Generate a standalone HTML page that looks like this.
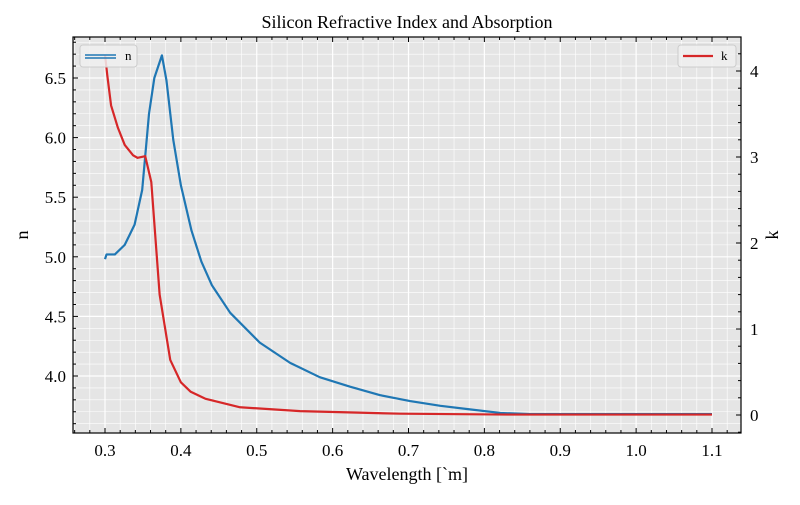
<!DOCTYPE html>
<html><head><meta charset="utf-8"><style>
body{margin:0;background:#fff;}
svg text{font-family:"Liberation Serif",serif;fill:#000;}
</style></head><body>
<svg id="c" width="800" height="500" xmlns="http://www.w3.org/2000/svg"></svg>
<script>
const nWl=[0.30,0.302,0.313,0.326,0.339,0.349,0.358,0.365,0.375,0.381,0.390,0.400,0.414,0.427,0.441,0.465,0.504,0.544,0.583,0.623,0.662,0.702,0.742,0.781,0.821,0.86,0.95,1.1];
const nVals=[4.98,5.02,5.02,5.10,5.27,5.56,6.20,6.50,6.69,6.48,5.98,5.60,5.22,4.96,4.76,4.53,4.28,4.11,3.99,3.91,3.84,3.79,3.75,3.72,3.69,3.68,3.68,3.68];
const kWl=[0.30,0.303,0.308,0.317,0.326,0.337,0.343,0.353,0.361,0.372,0.386,0.400,0.413,0.432,0.478,0.557,0.689,0.83,1.1];
const kVals=[4.19,3.95,3.60,3.34,3.14,3.02,2.99,3.01,2.71,1.40,0.64,0.38,0.27,0.19,0.09,0.045,0.015,0.005,0.005];
const xTicks=[0.3,0.4,0.5,0.6,0.7,0.8,0.9,1.0,1.1];
const nTicks=[4.0,4.5,5.0,5.5,6.0,6.5];
const kTicks=[0,1,2,3,4];
const L=73,R=741,T=37,B=433;
const X=v=>105+(v-0.3)*758.75;
const Y=v=>376-(v-4)*119.2;
const YK=v=>415-v*86;
const svg=document.getElementById('c');
const NS='http://www.w3.org/2000/svg';
function el(t,a,p){const e=document.createElementNS(NS,t);for(const k in a)e.setAttribute(k,a[k]);(p||svg).appendChild(e);return e;}
let e=el('rect',{x:L,y:T,width:R-L,height:B-T,fill:'#e5e5e5'});

const g=el('g',{});

for(let v=0.26;v<=1.14;v+=0.02){const x=X(v);if(x<L||x>R)continue;const maj=Math.abs(v*10-Math.round(v*10))<1e-6;el('line',{x1:x,x2:x,y1:T,y2:B,stroke:'#fff','stroke-width':maj?1.2:0.6},g);}
for(let v=3.6;v<=6.85;v+=0.1){const y=Y(v);if(y<T||y>B)continue;const maj=Math.abs(v*2-Math.round(v*2))<1e-6;el('line',{x1:L,x2:R,y1:y,y2:y,stroke:'#fff','stroke-width':maj?1.2:0.6},g);}
function pl(xs,ys,f,col,name){const p=el('polyline',{points:xs.map((v,i)=>X(v)+','+f(ys[i])).join(' '),fill:'none',stroke:col,'stroke-width':2.2,'stroke-linejoin':'round'});}
pl(nWl,nVals,Y,'#1f77b4','n-line');
pl(kWl,kVals,YK,'#d62728','k-line');
el('rect',{x:L,y:T,width:R-L,height:B-T,fill:'none',stroke:'#000','stroke-width':1.2});
for(let v=0.26;v<=1.14;v+=0.02){const x=X(v);if(x<L||x>R)continue;const maj=Math.abs(v*10-Math.round(v*10))<1e-6;const s=maj?5:3;el('line',{x1:x,x2:x,y1:B,y2:B-s,stroke:'#000'});el('line',{x1:x,x2:x,y1:T,y2:T+s,stroke:'#000'});}
for(let v=3.6;v<=6.85;v+=0.1){const y=Y(v);if(y<T||y>B)continue;const maj=Math.abs(v*2-Math.round(v*2))<1e-6;el('line',{x1:L,x2:L+(maj?5:3),y1:y,y2:y,stroke:'#000'});}
for(let v=-0.2;v<=4.4;v+=0.2){const y=YK(v);if(y<T||y>B)continue;const maj=Math.abs(v-Math.round(v))<1e-6;el('line',{x1:R,x2:R-(maj?5:3),y1:y,y2:y,stroke:'#000'});}
xTicks.forEach(v=>{const t=el('text',{x:X(v),y:456,'font-size':17,'text-anchor':'middle'});t.textContent=v.toFixed(1);});
nTicks.forEach(v=>{const t=el('text',{x:66,y:Y(v)+6,'font-size':17,'text-anchor':'end'});t.textContent=v.toFixed(1);});
kTicks.forEach(v=>{const t=el('text',{x:750,y:YK(v)+6,'font-size':17});t.textContent=v;});
</script>
<svg width="800" height="500" style="position:absolute;left:0;top:0" xmlns="http://www.w3.org/2000/svg">
<text x="407" y="28" font-size="18" text-anchor="middle">Silicon Refractive Index and Absorption</text>
<text x="407" y="480" font-size="18" text-anchor="middle">Wavelength [`m]</text>
<text x="28" y="235" font-size="18" text-anchor="middle" transform="rotate(-90 28 235)">n</text>
<text x="778" y="235" font-size="18" text-anchor="middle" transform="rotate(-90 778 235)">k</text>
<g>
<rect x="80" y="45" width="57" height="22" rx="3" fill="#f0f0f0" fill-opacity="0.85" stroke="#ccc"/>
<line x1="85" x2="116" y1="55" y2="55" stroke="#1f77b4" stroke-width="1.5"/>
<line x1="85" x2="116" y1="58" y2="58" stroke="#1f77b4" stroke-width="1.5"/>
<text x="125" y="60" font-size="13">n</text>
</g>
<g>
<rect x="678" y="45" width="58" height="22" rx="3" fill="#f0f0f0" fill-opacity="0.85" stroke="#ccc"/>
<line x1="683" x2="713" y1="56" y2="56" stroke="#d62728" stroke-width="2.2"/>
<text x="721" y="60" font-size="13">k</text>
</g>
</svg>
</body></html>
